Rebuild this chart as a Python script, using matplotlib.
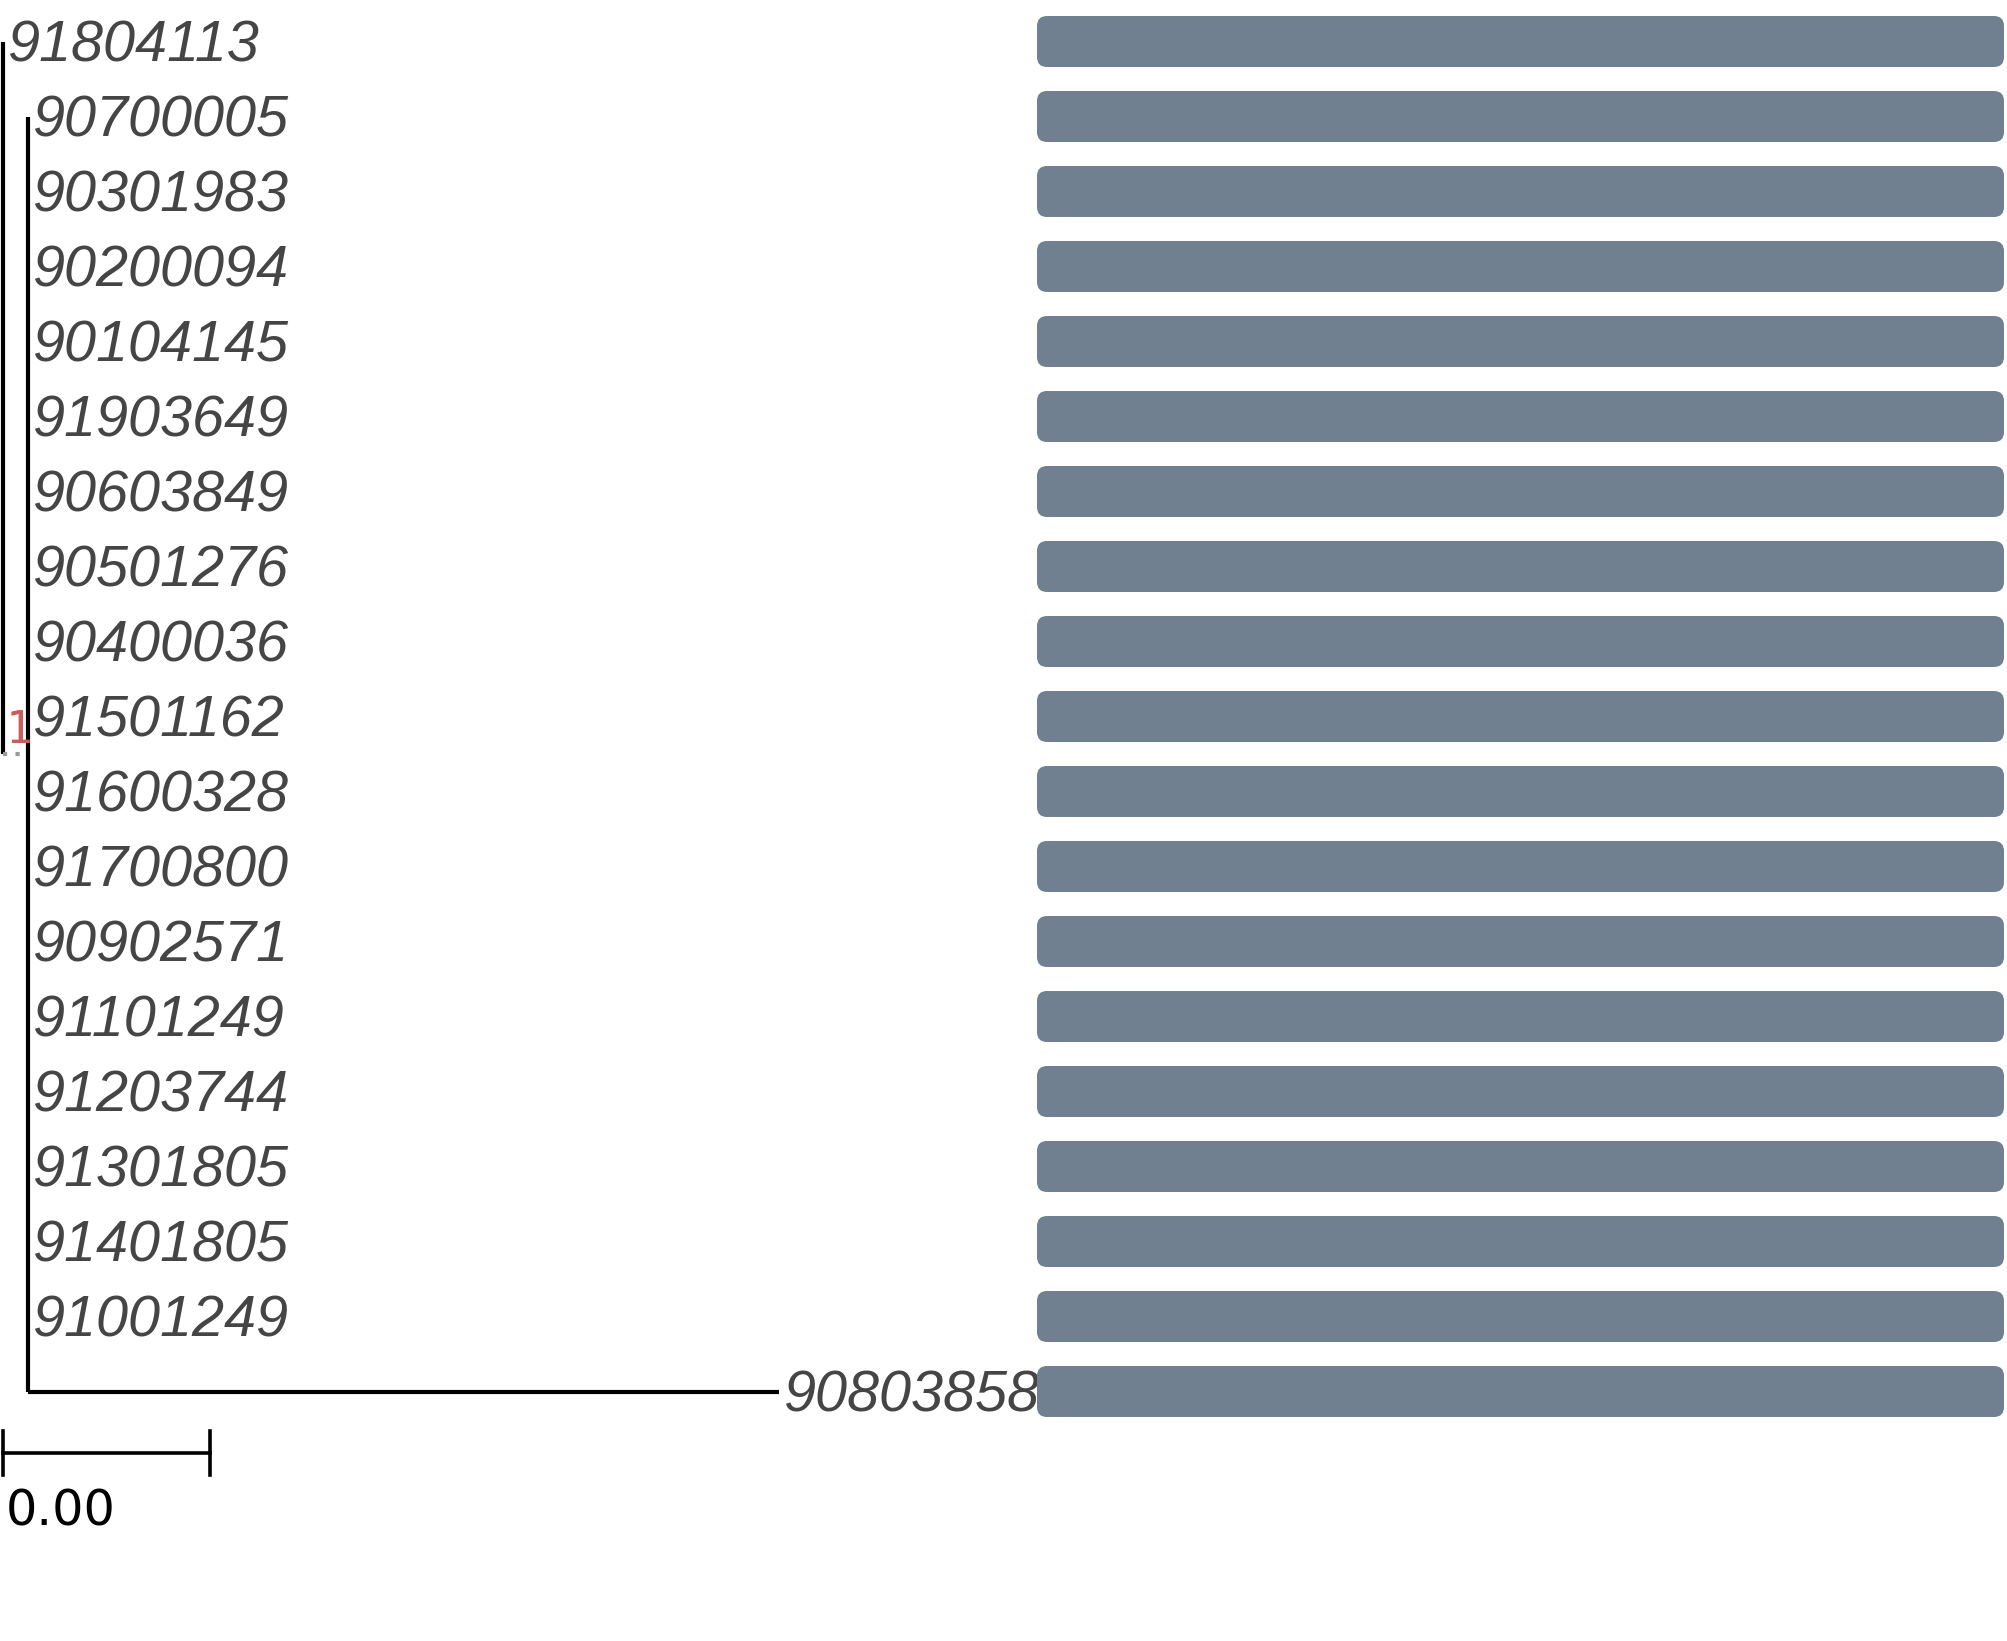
import matplotlib
matplotlib.use("Agg")
import matplotlib.pyplot as plt
from matplotlib.patches import FancyBboxPatch

# leaf names, top to bottom
labels = ["91804113", "90700005", "90301983", "90200094", "90104145",
          "91903649", "90603849", "90501276", "90400036", "91501162",
          "91600328", "91700800", "90902571", "91101249", "91203744",
          "91301805", "91401805", "91001249", "90803858"]

# branch lengths of the leaves (leaf 0 hangs from root, the rest from the clade)
leaf_len = [0.0, 0.0, 0.0, 0.0, 0.0, 0.0, 0.0, 0.0, 0.0, 0.0,
            0.0, 0.0, 0.0, 0.0, 0.0, 0.0, 0.0, 0.0, 0.003628]
clade_len = 0.000121
clade_support = "1"
scale_len = 0.001

bar_values = [1.0, 1.0, 1.0, 1.0, 1.0, 1.0, 1.0, 1.0, 1.0, 1.0,
              1.0, 1.0, 1.0, 1.0, 1.0, 1.0, 1.0, 1.0, 1.0]

W, H = 2007, 1641
px = scale_len / 207.0          # tree units per pixel
row_px = 75.0
y_top = -41.5 / row_px
y_bot = (H - 41.5) / row_px

fig = plt.figure(figsize=(W / 100, H / 100), dpi=100)
ax = fig.add_axes([0, 0, 1, 1])
ax.set_xlim(-3 * px, (W - 3) * px)
ax.set_ylim(y_bot, y_top)
ax.axis("off")

lw = 3.0
rows = list(range(len(labels)))
clade_rows = rows[1:]
clade_mid = (clade_rows[0] + clade_rows[-1]) / 2

# root vertical and dotted branch to clade
ax.plot([0, 0], [0, clade_mid], color="black", lw=lw, solid_capstyle="butt")
ax.plot([0, clade_len], [clade_mid, clade_mid], color="#999999", lw=lw,
        linestyle=(0, (1, 2)))
# clade vertical
ax.plot([clade_len, clade_len], [clade_rows[0], clade_rows[-1]], color="black",
        lw=lw, solid_capstyle="butt")

lab_font = dict(family="Liberation Sans", style="italic", size=41.5, color="#454545")
for i in rows:
    x0 = 0.0 if i == 0 else clade_len
    x1 = x0 + leaf_len[i]
    if leaf_len[i] > 0:
        ax.plot([x0, x1], [i, i], color="black", lw=lw, solid_capstyle="butt")
    ax.text(x1 + 4 * px, i + 0.27, labels[i], ha="left", va="baseline", **lab_font)

ax.text(3 * px, clade_mid - 0.147, clade_support, ha="left", va="baseline",
        family="DejaVu Sans Mono", size=32, color="#cd5c5c")

# scale bar
sb_y = (1453 - 41.5) / row_px
tick = 22 / row_px
ax.plot([0, scale_len], [sb_y, sb_y], color="black", lw=2.6)
ax.plot([0, 0], [sb_y - tick, sb_y + tick], color="black", lw=2.6)
ax.plot([scale_len, scale_len], [sb_y - tick, sb_y + tick], color="black", lw=2.6)
ax.text(3 * px, (1525 - 41.5) / row_px, "%.2f" % scale_len, ha="left",
        va="baseline", family="DejaVu Sans", size=35.5, color="black")

# bars
bx0, bx1 = 1037, 2004
bax = fig.add_axes([bx0 / W, 0, (bx1 - bx0) / W, 1])
bax.set_xlim(0, max(bar_values))
bax.set_ylim(y_bot, y_top)
bax.axis("off")
bar_h = 51 / row_px
r = 10.0
xu = max(bar_values) / (bx1 - bx0)
yu = 1 / row_px
for i, v in enumerate(bar_values):
    p = FancyBboxPatch((0, i - bar_h / 2), v, bar_h,
                       boxstyle="round,pad=0,rounding_size=%f" % (r * xu),
                       mutation_aspect=yu / xu, facecolor="#708090",
                       edgecolor="none")
    bax.add_patch(p)

fig.savefig("out.png", dpi=100)
